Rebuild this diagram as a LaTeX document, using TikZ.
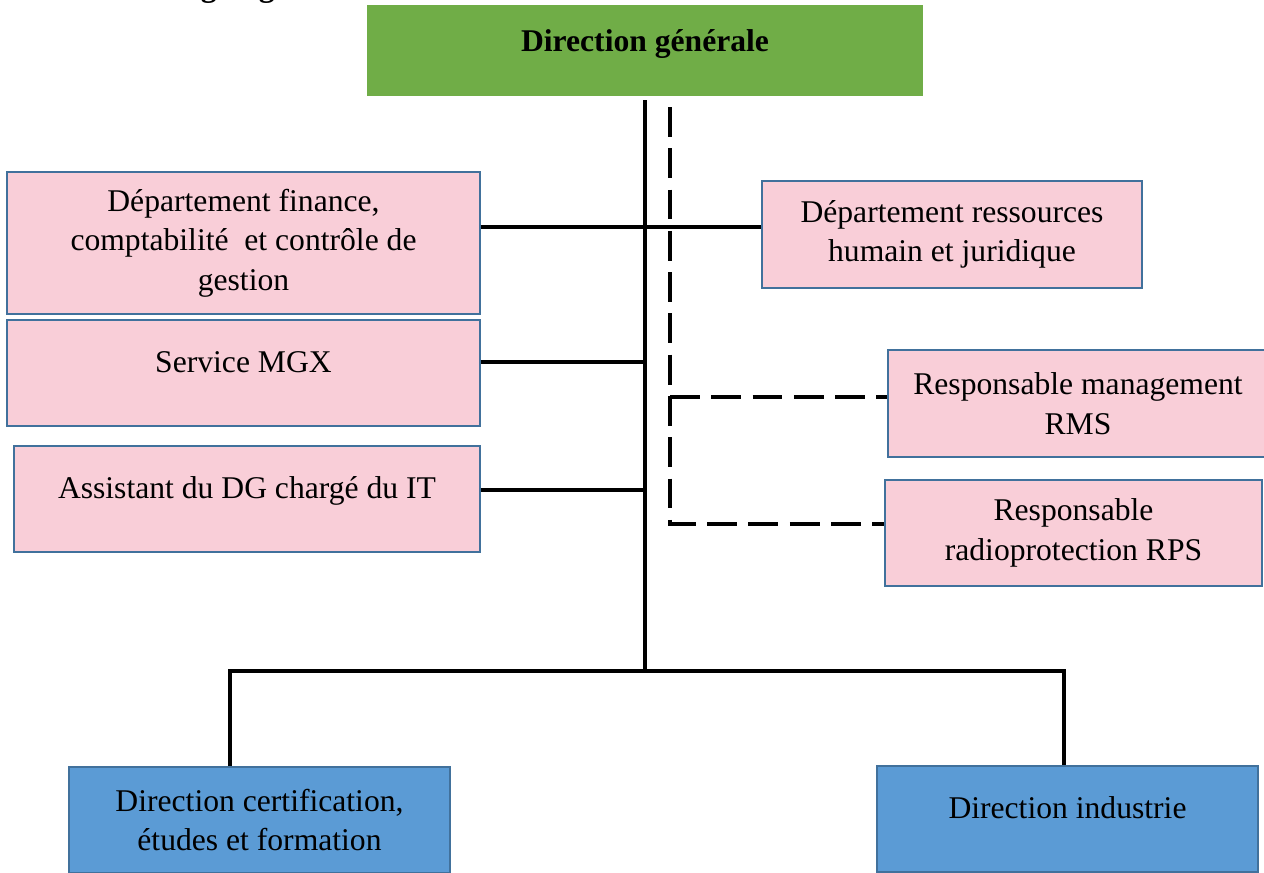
\documentclass[tikz,border=0pt]{standalone}
\usepackage{fontspec}
\setmainfont{Liberation Serif}
\definecolor{dggreen}{HTML}{70AD47}
\definecolor{unitpink}{HTML}{F9CED8}
\definecolor{dirblue}{HTML}{5B9BD5}
\definecolor{boxline}{HTML}{41719C}
\tikzset{
  unit/.style={draw=boxline, line width=1pt, fill=unitpink, align=center,
    font=\fontsize{18}{22.5}\selectfont, inner sep=0pt},
  direction/.style={unit, fill=dirblue},
  uptext/.style={text depth=0.45cm},
  link/.style={line width=2pt},
  staff/.style={line width=2pt, dash pattern=on 17pt off 6.5pt}
}
\begin{document}
\begin{tikzpicture}[x=0.02cm,y=-0.02cm]
\useasboundingbox (0,0) rectangle (1264,872);

\node[anchor=base west, inner sep=0pt, font=\bfseries\fontsize{18}{22.5}\selectfont] (title) at (162,-4) {Organigramme};

\node[fill=dggreen, minimum width=11.12cm, minimum height=1.82cm, text depth=0.38cm,
  font=\bfseries\fontsize{18}{22.5}\selectfont] (dg) at (645,50.5) {Direction générale};

\node[unit, minimum width=9.46cm, minimum height=2.84cm] (finance) at (243.5,243)
  {Département finance,\\comptabilité~ et contrôle de\\gestion};
\node[unit, uptext, minimum width=9.46cm, minimum height=2.12cm] (mgx) at (243.5,373) {Service MGX};
\node[unit, uptext, minimum width=9.32cm, minimum height=2.12cm] (assistant) at (247,499) {Assistant du DG chargé du IT};

\node[unit, minimum width=7.6cm, minimum height=2.14cm] (rh) at (952,234.5)
  {Département ressources\\humain et juridique};
\node[unit, minimum width=7.6cm, minimum height=2.14cm] (rms) at (1078,403.5)
  {Responsable management\\RMS};
\node[unit, minimum width=7.54cm, minimum height=2.12cm] (rps) at (1073.5,533)
  {Responsable\\radioprotection RPS};

\node[direction, minimum width=7.62cm, minimum height=2.12cm] (dcef) at (259.5,820)
  {Direction certification,\\études et formation};
\node[direction, uptext, minimum width=7.62cm, minimum height=2.12cm] (industrie) at (1067.5,819) {Direction industrie};

\coordinate (hub) at (645,671);
\coordinate (hubL) at (230,671);
\coordinate (hubR) at (1064,671);
\coordinate (staff) at (670,107);

\draw[staff] (staff) -- (staff |- 0,524) -- (rps.west |- 0,524);
\draw[staff] (staff |- 0,397) -- (rms.west |- 0,397);

\draw[link] ([yshift=-0.08cm]dg.south) -- (hub);
\draw[link] (finance.east |- 0,227) -- (rh.west |- 0,227);
\foreach \unit/\y in {mgx/362, assistant/490}
\draw[link] (\unit.east |- 0,\y) -- (hub |- 0,\y);
\draw[link] (dcef.north -| hubL) -- (hubL) -- (hubR) -- (industrie.north -| hubR);
\end{tikzpicture}
\end{document}
